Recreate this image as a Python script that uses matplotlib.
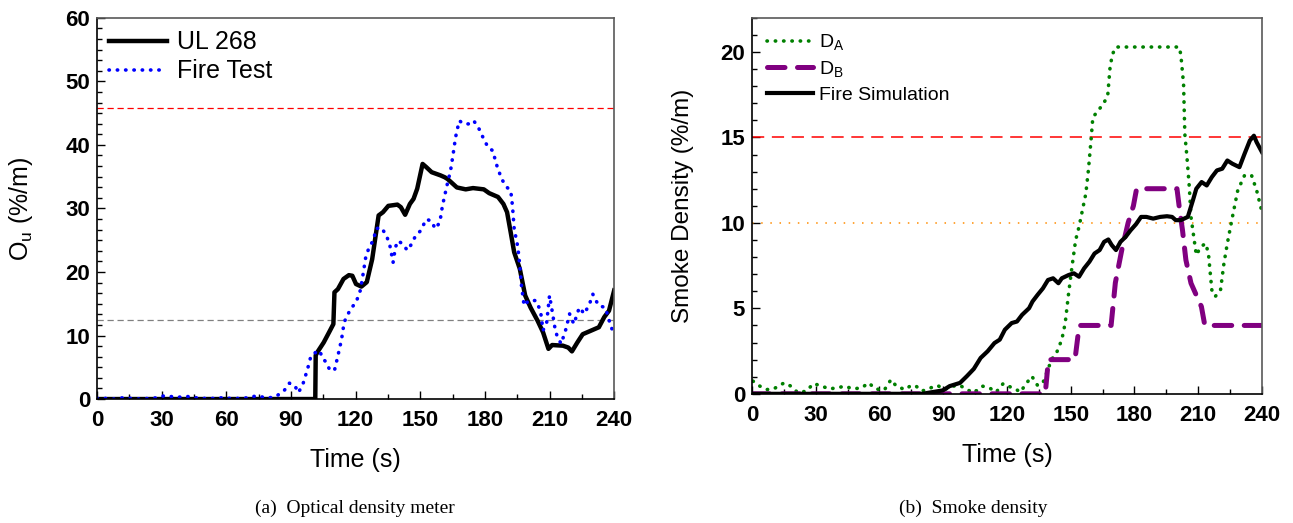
import numpy as np
import matplotlib.pyplot as plt
from matplotlib.ticker import MultipleLocator

# ---- (a) optical density meter ----
ul_t = [0, 101.3, 101.5, 102.7, 105.2, 107.7, 109.7, 110.2, 111.8, 114.4, 116.9, 118.5,
        120.2, 122.7, 125.2, 127.7, 130.7, 132.7, 135.2, 139.4, 141, 143, 145.2, 146.9,
        148.6, 151.1, 152.8, 155.3, 159.4, 161.4, 162.8, 167, 171.1, 174.5, 179.5, 182,
        186.1, 188.6, 190.3, 192, 193.6, 196.2, 198.7, 201.2, 204.5, 207, 209.5, 211.2,
        216.2, 218.7, 220.4, 222.9, 225.4, 229.5, 232.9, 235.4, 237.6, 240]
ul_v = [0, 0, 6.9, 7.6, 8.9, 10.5, 11.8, 16.8, 17.3, 18.9, 19.5, 19.4,
        18.1, 17.7, 18.4, 22, 28.9, 29.4, 30.4, 30.6, 30.2, 29, 30.7, 31.5,
        33.1, 37, 36.5, 35.7, 35.2, 34.9, 34.6, 33.3, 33, 33.2, 33, 32.4,
        31.8, 30.7, 29.4, 26.2, 23.1, 20.5, 16.3, 14.4, 12.3, 10.5, 7.9, 8.5,
        8.4, 8.1, 7.5, 8.9, 10.2, 10.8, 11.3, 12.9, 13.9, 17.1]

ft_t = [0, 4, 8, 12, 16, 20, 24, 28, 31, 34, 38, 42, 46, 50, 54, 58, 62, 66, 70, 74,
        77, 80, 83, 86.8, 89.3, 91.8, 93.5, 95.7, 97.7, 99.3, 101.3, 103.5, 104.3,
        106.3, 108, 110.2, 111.8, 113.5, 114.7, 117.7, 120.2, 122.2, 123.5, 124.7,
        126, 128.5, 129.4, 131.9, 134.4, 136.1, 137.4, 138.5, 139.7, 141.9, 144,
        146, 147.7, 150.2, 152.8, 155.3, 156.9, 159.1, 160.3, 162.4, 164.1, 165.3,
        166.4, 168.1, 170.3, 172.8, 174.8, 176.9, 179.5, 181.5, 183.6, 185.6, 187.8,
        190.3, 192, 192.8, 193.6, 195.3, 196.2, 197, 198.2, 200.3, 203.7, 205.8, 207,
        208.7, 210, 211.2, 212.6, 213.7, 215.4, 217.6, 219.3, 221.3, 223.8, 226.2,
        228.8, 230.1, 231.2, 232.9, 235.9, 237.9, 239.2, 240]
ft_v = [0.1, 0.1, 0.0, 0.2, 0.1, 0.0, 0.1, 0.2, 0.5, 0.4, 0.3, 0.4, 0.2, 0.1, 0.1, 0.2,
        0.1, 0.1, 0.2, 0.5, 0.3, 0.2, 0.4, 1.3, 2.5, 2.1, 1.0, 2.5, 4.7, 6.8, 7.3, 7.6, 6.6,
        5.8, 4.6, 4.5, 6.8, 9.4, 12.1, 14.2, 15.2, 17.1, 19.7, 22.3,
        23.6, 25.2, 26.8, 27, 25.7, 23.9, 21.5, 23.9, 24.9, 24.4, 23.4,
        24.4, 25.6, 26.5, 28.3, 28, 26.8, 27.8, 30.4, 33.6, 36, 38.6,
        41.2, 43.8, 43.3, 43.3, 43.8, 42.8, 40.9, 39.6, 39.1, 36.7, 34.6,
        33.3, 32.8, 30.4, 26.8, 23.9, 21, 17.8, 14.7, 15.5, 15.5, 13.9, 10.8,
        12.1, 16.3, 13.9, 11, 9.7, 8.7, 11, 13.4, 11.8, 14.4, 13.4,
        15.2, 16.5, 15.7, 14.7, 14.4, 12.1, 10.8, 10.5]

ref_a_hi = 45.8
ref_a_lo = 12.5

# ---- (b) smoke density ----
sim_t = [0, 80, 84.9, 89.8, 93, 97.9, 101.1, 104.4, 107.6, 110.9, 114.1, 116.6, 119,
         122.2, 124.7, 127.1, 130.4, 132, 134.4, 136.9, 139.3, 141.7, 144.2, 145.8,
         149, 151.5, 153.9, 156.3, 158.8, 161.2, 163.6, 165.7, 167.7, 169.3, 171.3,
         173.4, 175.8, 178.2, 180.7, 183.1, 185.6, 188.8, 192.1, 195.3, 197.7, 199.4,
         201.8, 205.1, 207.5, 209.1, 211.6, 214, 216.4, 218.8, 221.3, 223.7, 226.1,
         229.4, 231.8, 234.3, 236.2, 237.5, 240]
sim_v = [0, 0, 0.1, 0.2, 0.45, 0.64, 1.03, 1.46, 2.1, 2.49, 2.97, 3.17, 3.75,
         4.14, 4.23, 4.62, 5.01, 5.4, 5.79, 6.17, 6.66, 6.76, 6.47, 6.76,
         6.95, 7.05, 6.85, 7.34, 7.73, 8.21, 8.41, 8.89, 9.03, 8.7, 8.41,
         8.89, 9.18, 9.57, 9.92, 10.35, 10.35, 10.25, 10.35, 10.39, 10.35, 10.16,
         10.16, 10.35, 11.32, 12.0, 12.39, 12.19, 12.68, 13.07, 13.17, 13.65, 13.46,
         13.26, 14.04, 14.82, 15.1, 14.72, 14.14]

da_t = [0.5, 3.7, 7, 10.2, 15.1, 18.3, 21.6, 25.6, 28.9, 32.9, 36.2, 40.3, 43.5, 47.6,
        51.6, 54.9, 58.1, 62.2, 65.4, 67.9, 71.9, 74.4, 76.8, 80, 84.1, 87.3, 90.6,
        94.6, 97.9, 101.1, 104.4, 108.4, 111.7, 114.9, 118.2, 120.6, 123.9, 126.3,
        128.7, 131.7, 134.4, 136.9, 139.3, 140.9, 143.3, 145.8, 147.4, 149, 150.6,
        152.3, 153.9, 155.5, 157.1, 158.3, 159.6, 160.4, 162.8, 165.3, 167.4, 168.5,
        169.6, 171.3, 201, 201.8, 203.1, 203.7, 204.7, 205.8, 206.6, 207.9, 209.1,
        211.2, 213.5, 214.8, 216.4, 218, 220.5, 222.1, 223.7, 226.1, 228.6, 231.8,
        235.1, 237.5, 240]
da_v = [0.74, 0.45, 0.25, 0.29, 0.64, 0.45, 0.06, 0.16, 0.6, 0.45, 0.29, 0.35, 0.45,
        0.29, 0.35, 0.64, 0.29, 0.21, 0.83, 0.45, 0.25, 0.45, 0.49, 0.16, 0.35, 0.49,
        0.25, 0.45, 0.49, 0.25, 0.06, 0.45, 0.35, 0.1, 0.6, 0.45, 0.29, 0.1,
        0.54, 1.03, 0.49, 0.64, 1.42, 2.0, 2.39, 3.17, 4.14, 5.88, 7.44,
        8.99, 9.77, 10.74, 11.71, 13.07, 14.91, 16.17, 16.56, 16.95, 17.44, 19.09,
        19.86, 20.29, 20.29, 19.86, 18.12, 15.2, 13.84, 12.1, 10.35, 9.18, 8.12,
        8.6, 8.8, 8.21, 6.08, 5.69, 6.08, 7.63, 8.8, 10.35, 11.9, 12.78,
        12.78, 11.9, 10.64]

db_t = [0, 138, 139.5, 152, 154, 169, 171, 174, 177, 179.5, 181, 200, 201, 202.6,
        204.2, 206.6, 211.5, 213.1, 240]
db_v = [0, 0, 2, 2, 4, 4, 6.5, 8.4, 10, 11, 12, 12, 11, 9.57,
        7.83, 6.47, 5.1, 4, 4]

ref_b_hi = 15
ref_b_lo = 10

plt.rcParams['mathtext.default'] = 'regular'
narrow = ['Liberation Sans Narrow', 'Liberation Sans', 'DejaVu Sans']
sans = ['Liberation Sans', 'DejaVu Sans']
serif = ['Liberation Serif', 'DejaVu Serif']

fig = plt.figure(figsize=(12.93, 5.23), dpi=100)
ax1 = fig.add_axes([0.075, 0.237, 0.400, 0.729])
ax2 = fig.add_axes([0.5816, 0.247, 0.3944, 0.719])

dot = (0, (0.1, 2.2))

# panel (a)
ax1.axhline(ref_a_hi, color='red', lw=0.9, ls=(0, (5, 3)))
ax1.axhline(ref_a_lo, color='gray', lw=0.9, ls=(0, (5, 3)))
ax1.plot(ul_t, ul_v, color='black', lw=3.2, label='UL 268', solid_joinstyle='round')
ax1.plot(ft_t, ft_v, color='blue', lw=2.6, ls=dot, dash_capstyle='round', label='Fire Test')
ax1.set_xlim(0, 240)
ax1.set_ylim(0, 60)
ax1.yaxis.set_major_locator(MultipleLocator(10))
ax1.yaxis.set_minor_locator(MultipleLocator(10 / 6))
ax1.set_ylabel('O$_u$ (%/m)', fontsize=18, family=sans, labelpad=22)
ax1.legend(loc='upper left', frameon=False, handlelength=2.3,
           handletextpad=0.4, labelspacing=0.2, borderaxespad=0.1,
           prop={'family': sans, 'size': 18})

# panel (b)
ax2.axhline(ref_b_hi, color='red', lw=1.1, ls=(0, (8, 5)))
ax2.axhline(ref_b_lo, color='darkorange', lw=1.1, ls=(0, (1, 5)))
ax2.plot(da_t, da_v, color='green', lw=2.6, ls=dot, dash_capstyle='round', label='D$_A$')
ax2.plot(db_t, db_v, color='purple', lw=3.6, ls=(0, (3.5, 2.5)), dash_capstyle='round',
         label='D$_B$')
ax2.plot(sim_t, sim_v, color='black', lw=3.0, label='Fire Simulation')
ax2.set_xlim(0, 240)
ax2.set_ylim(0, 22)
ax2.yaxis.set_major_locator(MultipleLocator(5))
ax2.yaxis.set_minor_locator(MultipleLocator(1))
ax2.set_ylabel('Smoke Density (%/m)', fontsize=17.5, family=sans, labelpad=19)
ax2.legend(loc='upper left', frameon=False, handlelength=2.4, handletextpad=0.3,
           labelspacing=0.35, borderaxespad=0.35, prop={'family': sans, 'size': 14})

for ax in (ax1, ax2):
    ax.xaxis.set_major_locator(MultipleLocator(30))
    ax.xaxis.set_minor_locator(MultipleLocator(15))
    ax.tick_params(which='both', direction='in', top=False, right=False)
    ax.tick_params(which='major', length=6, width=1)
    ax.tick_params(which='minor', length=3.5, width=1)
    ax.tick_params(axis='x', pad=8)
    ax.tick_params(axis='y', pad=5)
    ax.set_xlabel('Time (s)', fontsize=18, family=narrow, labelpad=12)
    for lab in ax.get_xticklabels() + ax.get_yticklabels():
        lab.set_family(narrow)
        lab.set_fontweight('bold')
        lab.set_fontsize(16)
    for s in ax.spines.values():
        s.set_linewidth(1.2)
    ax.spines['top'].set_color('0.35')
    ax.spines['right'].set_color('0.35')

fig.text(0.2745, 0.028, '(a)  Optical density meter', ha='center', va='center',
         fontsize=14, family=serif)
fig.text(0.7525, 0.028, '(b)  Smoke density', ha='center', va='center',
         fontsize=14, family=serif)

fig.savefig('out.png', dpi=100)
